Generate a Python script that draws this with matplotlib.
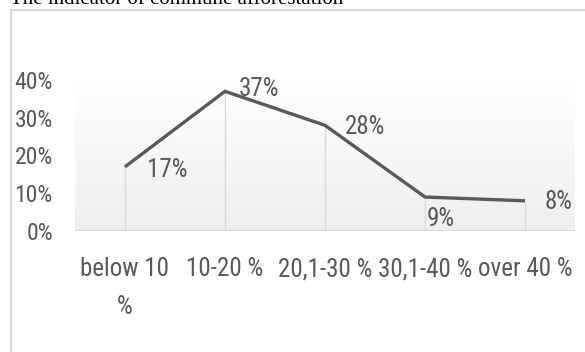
import numpy as np
import matplotlib
matplotlib.use("Agg")
import matplotlib.pyplot as plt
from matplotlib.patches import Rectangle
from matplotlib.ticker import FuncFormatter

# Share of communes by afforestation level
categories = ["below 10\n%", "10-20 %", "20,1-30 %", "30,1-40 %", "over 40 %"]
shares = [17, 37, 28, 9, 8]
value_labels = ["17%", "37%", "28%", "9%", "8%"]
y_ticks = [0, 10, 20, 30, 40]

# label offsets in points (dx, dy) relative to each point
label_offsets = [(16, -2), (10, 2), (14, -1), (1, -16), (14, -1)]

GRAY = "#595959"
LIGHT = "#d9d9d9"
NARROW = ["Roboto Condensed", "PT Sans Narrow", "DejaVu Sans"]

W, H = 585, 352
fig = plt.figure(figsize=(W / 100, H / 100), dpi=100)
fig.patch.set_facecolor("white")

# outer chart frame (runs off the right and bottom edges)
fig.patches.append(Rectangle((11 / W, -0.1), 1.2, (H - 10) / H + 0.1,
                             transform=fig.transFigure, fill=False,
                             edgecolor=LIGHT, linewidth=1.6, zorder=0))

fig.text(10 / W, 1 - 3.5 / H, "The indicator of commune afforestation",
         family=["Liberation Serif", "DejaVu Serif"], fontsize=15,
         color="black", ha="left", va="baseline")

ax = fig.add_axes([75 / W, (H - 231) / H, 500 / W, 151 / H])
x = np.arange(len(categories))
ax.set_xlim(-0.5, len(categories) - 0.5)
ax.set_ylim(0, 40)

# vertical gradient background of the plot area
grad = np.linspace(1.0, 0.935, 256).reshape(-1, 1)
ax.imshow(np.dstack([grad, grad, grad]), extent=(-0.5, len(categories) - 0.5, 0, 40),
          aspect="auto", origin="upper", zorder=0)

# drop lines from each point to the baseline
ax.vlines(x, 0, shares, color=LIGHT, linewidth=1.0, zorder=1)
ax.axhline(0, color=LIGHT, linewidth=1.5, zorder=1)

ax.plot(x, shares, color=GRAY, linewidth=2.4, solid_joinstyle="miter",
        solid_capstyle="butt", zorder=3)

for xi, v, lab, (dx, dy) in zip(x, shares, value_labels, label_offsets):
    ax.annotate(lab, (xi, v), xytext=(dx, dy), textcoords="offset points",
                ha="left", va="center", fontsize=18, color=GRAY,
                family=NARROW, zorder=4)

for s in ax.spines.values():
    s.set_visible(False)

ax.set_yticks(y_ticks)
ax.yaxis.set_major_formatter(FuncFormatter(lambda v, p: f"{int(v)}%"))
ax.set_xticks(x)
ax.set_xticklabels(categories, linespacing=1.7)
ax.tick_params(axis="both", length=0, colors=GRAY)
ax.tick_params(axis="y", pad=16)
ax.tick_params(axis="x", pad=19)
for t in ax.get_yticklabels():
    t.set_fontsize(17)
    t.set_family(NARROW)
for t in ax.get_xticklabels():
    t.set_fontsize(18)
    t.set_family(NARROW)
    t.set_verticalalignment("top")

fig.savefig("out.png", dpi=100)
